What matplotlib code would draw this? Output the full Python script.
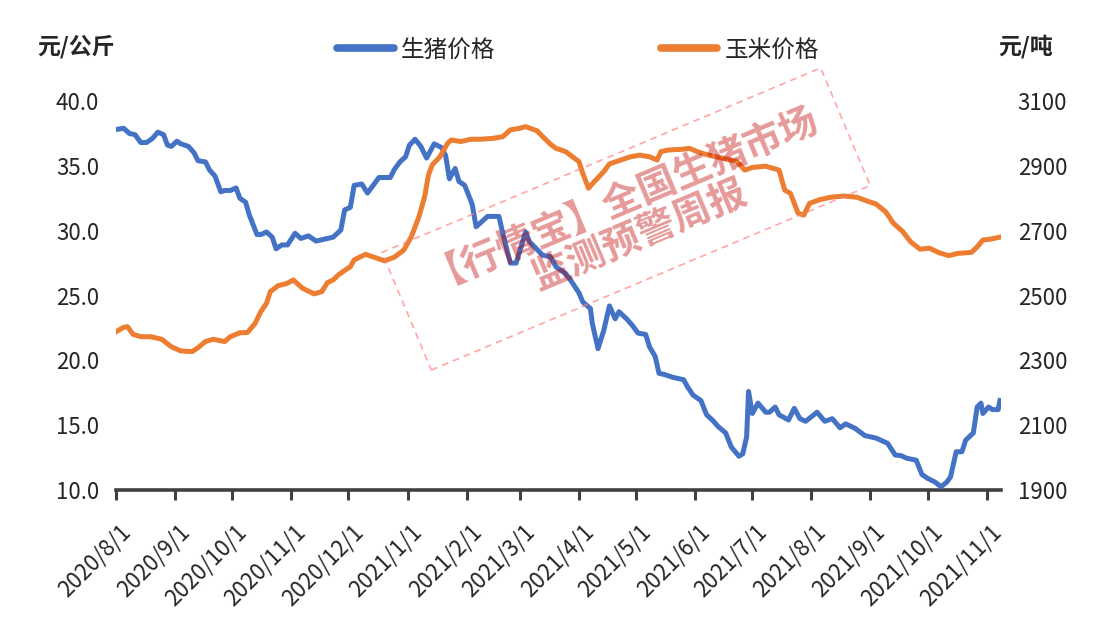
import pandas as pd
import matplotlib
matplotlib.use("Agg")
import matplotlib.pyplot as plt
from matplotlib.patches import Rectangle
from matplotlib.lines import Line2D
import matplotlib.transforms as mtransforms

plt.rcParams['font.family'] = ['Noto Sans CJK SC', 'DejaVu Sans']

# ---- data ----
start = pd.Timestamp("2020-08-01")

pig_days = [0, 4, 7, 10, 13, 16, 19, 22, 25, 27, 29, 32, 34, 38, 41, 43, 47, 49, 52, 55,
            57, 60, 63, 65, 68, 70, 74, 76, 79, 82, 84, 87, 90, 94, 97, 101, 105, 111, 114, 118,
            120, 123, 125, 129, 132, 135, 138, 144, 146, 149, 152, 154, 157, 160, 163, 167, 171, 173, 175, 178,
            180, 183, 186, 187, 189, 192, 195, 201, 203, 207, 210, 215, 217, 222, 224, 228, 231, 236, 239, 243,
            245, 249, 250, 253, 256, 259, 262, 264, 268, 271, 274, 278, 280, 283, 285, 288, 292, 298, 300, 303,
            307, 310, 313, 316, 320, 323, 327, 329, 331, 332, 334, 337, 341, 343, 346, 348, 353, 356, 359, 362,
            368, 372, 376, 380, 383, 388, 393, 399, 405, 409, 412, 415, 420, 423, 426, 430, 433, 436, 438, 441,
            444, 446, 450, 452, 454, 455, 458, 460, 463, 464]
pig_price = [37.8, 37.9, 37.5, 37.4, 36.8, 36.8, 37.1, 37.6, 37.4, 36.6, 36.5, 36.9, 36.7, 36.5, 36.0, 35.4, 35.3, 34.7, 34.2, 33.0,
             33.1, 33.1, 33.3, 32.5, 32.2, 31.2, 29.7, 29.7, 29.9, 29.5, 28.6, 28.9, 28.9, 29.8, 29.4, 29.6, 29.2, 29.4, 29.5, 30.05,
             31.6, 31.8, 33.5, 33.6, 32.9, 33.5, 34.1, 34.1, 34.7, 35.3, 35.7, 36.6, 37.05, 36.5, 35.6, 36.7, 36.4, 35.8, 34.0, 34.8,
             33.8, 33.5, 32.4, 32.0, 30.3, 30.7, 31.1, 31.1, 29.8, 27.5, 27.5, 29.9, 29.15, 28.4, 28.1, 28.0, 27.2, 26.7, 26.1, 25.2,
             24.5, 24.0, 22.85, 20.9, 22.3, 24.2, 23.2, 23.75, 23.2, 22.7, 22.1, 22.0, 21.05, 20.3, 19.0, 18.9, 18.7, 18.5, 17.95, 17.3,
             16.9, 15.8, 15.4, 14.9, 14.4, 13.3, 12.6, 12.8, 14.1, 17.6, 15.9, 16.7, 16.0, 16.0, 16.4, 15.8, 15.4, 16.3, 15.5, 15.3,
             16.0, 15.3, 15.5, 14.8, 15.1, 14.75, 14.2, 14.0, 13.6, 12.7, 12.65, 12.45, 12.3, 11.2, 10.9, 10.6, 10.25, 10.6, 11.0, 12.95,
             12.95, 13.85, 14.4, 16.4, 16.7, 15.9, 16.4, 16.2, 16.2, 16.9]

corn_days = [0, 4, 6, 9, 13, 18, 24, 29, 34, 40, 43, 47, 51, 57, 60, 65, 69, 73, 76, 79,
             81, 85, 90, 93, 98, 104, 108, 111, 114, 117, 119, 123, 125, 131, 136, 141, 146, 151, 155, 159,
             162, 164, 166, 170, 174, 176, 181, 186, 191, 198, 203, 207, 212, 215, 221, 224, 228, 231, 236, 243,
             245, 248, 251, 256, 259, 264, 270, 275, 280, 284, 286, 290, 297, 301, 305, 311, 319, 326, 330, 334,
             341, 345, 348, 351, 354, 358, 361, 364, 369, 375, 382, 389, 394, 399, 404, 408, 413, 417, 422, 427,
             432, 437, 442, 449, 452, 455, 459, 464]
corn_price = [2388, 2402, 2404, 2380, 2373, 2373, 2365, 2342, 2329, 2327, 2339, 2358, 2365, 2358, 2373, 2385, 2386, 2414, 2450, 2476,
              2512, 2530, 2538, 2548, 2522, 2505, 2512, 2540, 2548, 2565, 2573, 2589, 2610, 2627, 2617, 2607, 2618, 2640, 2681, 2743,
              2805, 2872, 2903, 2928, 2969, 2980, 2975, 2982, 2982, 2985, 2990, 3011, 3016, 3021, 3008, 2990, 2967, 2954, 2944, 2913,
              2877, 2831, 2851, 2882, 2906, 2916, 2928, 2933, 2928, 2918, 2944, 2949, 2951, 2954, 2944, 2933, 2923, 2913, 2887, 2895,
              2899, 2892, 2887, 2825, 2815, 2754, 2748, 2784, 2795, 2803, 2807, 2803, 2792, 2782, 2758, 2723, 2697, 2666, 2643, 2646,
              2632, 2623, 2630, 2633, 2650, 2671, 2674, 2680]

month_ticks = ["2020/8/1", "2020/9/1", "2020/10/1", "2020/11/1", "2020/12/1", "2021/1/1",
               "2021/2/1", "2021/3/1", "2021/4/1", "2021/5/1", "2021/6/1", "2021/7/1",
               "2021/8/1", "2021/9/1", "2021/10/1", "2021/11/1"]

pig_dates = start + pd.to_timedelta(pig_days, unit="D")
corn_dates = start + pd.to_timedelta(corn_days, unit="D")
tick_dates = pd.to_datetime(month_ticks, format="%Y/%m/%d")

BLUE = "#4472C4"
ORANGE = "#ED7D31"
AXC = "#404040"
TXT = "#262626"

fig = plt.figure(figsize=(11.08, 6.19), dpi=100)
ax = fig.add_axes([0.1047, 0.2084, 0.7987, 0.6284])
ax2 = ax.twinx()

ax.plot(pig_dates, pig_price, color=BLUE, linewidth=3.6, solid_joinstyle="round", zorder=3)
ax2.plot(corn_dates, corn_price, color=ORANGE, linewidth=3.6, solid_joinstyle="round", zorder=3)

ax.set_xlim(start, start + pd.Timedelta(days=464.5))
ax.set_ylim(10, 40)
ax2.set_ylim(1900, 3100)
ax.set_yticks([10, 15, 20, 25, 30, 35, 40])
ax.set_yticklabels([f"{v:.1f}" for v in [10, 15, 20, 25, 30, 35, 40]])
ax2.set_yticks(range(1900, 3101, 200))

for a in (ax, ax2):
    for s in ("top", "left", "right"):
        a.spines[s].set_visible(False)
ax2.spines["bottom"].set_visible(False)
ax.spines["bottom"].set_color(AXC)
ax.spines["bottom"].set_linewidth(2.6)

ax.tick_params(axis="y", length=0, pad=12, labelsize=16, labelcolor=TXT)
ax2.tick_params(axis="y", length=0, pad=12, labelsize=16, labelcolor=TXT)

ax.set_xticks(tick_dates)
ax.set_xticklabels(month_ticks, rotation=45, ha="right", va="top", rotation_mode="anchor")
ax.tick_params(axis="x", length=7, width=2.2, color=AXC, pad=15, labelsize=16, labelcolor=TXT)
offset = mtransforms.ScaledTranslation(3 / 100, 0, fig.dpi_scale_trans)
for lbl in ax.get_xticklabels():
    lbl.set_transform(lbl.get_transform() + offset)

# unit labels
fig.text(37 / 1108, 1 - 47 / 619, "元/公斤", fontsize=16.5, fontweight="bold", color=TXT, va="center", ha="left")
fig.text(998 / 1108, 1 - 47 / 619, "元/吨", fontsize=16.5, fontweight="bold", color=TXT, va="center", ha="left")

# legend
handles = [Line2D([], [], color=BLUE, linewidth=5.5, solid_capstyle="round"),
           Line2D([], [], color=ORANGE, linewidth=5.5, solid_capstyle="round")]
fig.legend(handles, ["生猪价格", "玉米价格"], loc="center", bbox_to_anchor=(0.5217, 1 - 50 / 619),
           ncol=2, frameon=False, fontsize=17, handlelength=2.4, handletextpad=0.3,
           columnspacing=7.0, labelcolor=TXT)

# watermark
rect = Rectangle((6.26 - 4.76 / 2, 4.00 - 1.276 / 2), 4.76, 1.276, angle=22.8,
                 rotation_point="center", transform=fig.dpi_scale_trans,
                 fill=False, edgecolor="#FF8080", linestyle=(0, (4, 3)), linewidth=1.2,
                 alpha=0.7, zorder=10)
fig.add_artist(rect)
fig.text(6.30, 4.06, "【行情宝】全国生猪市场\n监测预警周报", transform=fig.dpi_scale_trans,
         rotation=22.8, rotation_mode="anchor", ha="center", va="center", multialignment="center",
         fontsize=27.5, fontweight="bold", color="#C00000", alpha=0.4, linespacing=1.3, zorder=10)

fig.savefig("out.png", dpi=100)
